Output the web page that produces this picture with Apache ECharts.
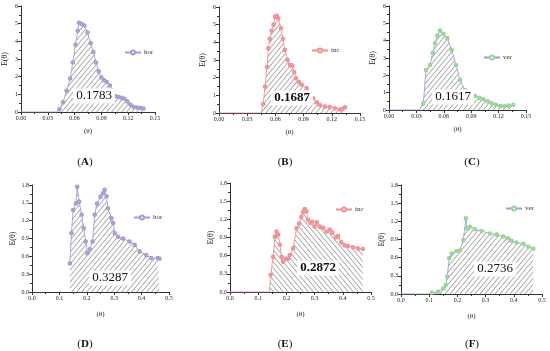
<!DOCTYPE html>
<html><head><meta charset="utf-8">
<script src="https://cdn.jsdelivr.net/npm/echarts@6/dist/echarts.min.js"></script>
<style>html,body{margin:0;padding:0;background:#fff}#c{width:550px;height:351px}</style>
</head><body><div id="c"></div>
<script>
// ---- data ----
const A_x=[0,0.02,0.04,0.043,0.047,0.051,0.055,0.058,0.061,0.0635,0.065,0.068,0.071,0.0745,0.078,0.081,0.084,0.087,0.09,0.093,0.096,0.0995,0.103,0.1055,0.109,0.1125,0.1155,0.119,0.1225,0.126,0.13,0.134,0.137];
const A_y=[0,0,0,0.15,0.55,1.2,1.9,2.8,3.8,4.6,5.05,4.98,4.9,4.5,3.9,3.4,2.8,2.3,1.95,1.8,1.7,1.5,1.2,0.9,0.85,0.8,0.75,0.6,0.42,0.3,0.25,0.22,0.2];
const B_x=[0,0.03,0.045,0.047,0.049,0.051,0.0525,0.054,0.056,0.058,0.0596,0.0615,0.063,0.066,0.068,0.070,0.073,0.0755,0.078,0.080,0.082,0.085,0.088,0.0933,0.097,0.1003,0.104,0.1074,0.1127,0.118,0.1234,0.1287,0.131,0.134];
const B_y=[0,0,0,0.5,1.5,2.6,3.66,4.2,4.65,5.0,5.45,5.5,5.36,4.8,4.2,3.57,3.0,2.72,2.68,2.3,1.96,1.75,1.6,1.4,1.1,0.83,0.6,0.45,0.36,0.33,0.27,0.2,0.22,0.32];
const C_x=[0,0.02,0.033,0.0376,0.0405,0.0449,0.048,0.0504,0.053,0.0559,0.0595,0.0639,0.0687,0.0734,0.0778,0.0832,0.088,0.094,0.099,0.1033,0.108,0.1125,0.117,0.1216,0.126,0.1307,0.136];
const C_y=[0,0,0,0.38,2.3,2.6,3.3,3.85,4.3,4.58,4.4,4.13,3.46,2.6,1.73,1.15,0.95,0.81,0.7,0.62,0.5,0.38,0.3,0.23,0.22,0.25,0.3];
const D_x=[0.138,0.144,0.15,0.16,0.165,0.172,0.181,0.189,0.196,0.2025,0.211,0.221,0.229,0.237,0.25,0.259,0.265,0.272,0.277,0.29,0.296,0.302,0.314,0.332,0.356,0.375,0.393,0.417,0.435,0.459,0.465];
const D_y=[0.48,0.99,1.38,1.49,1.77,1.52,1.3,1.07,0.85,0.65,0.72,0.85,1.3,1.49,1.6,1.66,1.72,1.61,1.41,1.24,1.16,0.99,0.93,0.9,0.85,0.79,0.68,0.62,0.57,0.57,0.56];
const E_x=[0,0.07,0.14,0.144,0.153,0.159,0.165,0.171,0.177,0.183,0.188,0.198,0.206,0.212,0.224,0.236,0.245,0.253,0.259,0.265,0.271,0.277,0.286,0.292,0.3,0.308,0.318,0.33,0.342,0.354,0.363,0.375,0.383,0.395,0.406,0.418,0.436,0.453,0.471];
const E_y=[0,0,0,0.28,0.58,0.91,1.0,0.95,0.78,0.58,0.5,0.55,0.55,0.61,0.72,1.05,1.13,1.24,1.32,1.37,1.33,1.19,1.14,1.16,1.08,1.15,1.08,1.06,1.0,1.03,0.98,0.9,0.93,0.82,0.77,0.76,0.74,0.72,0.71];
const F_x=[0,0.05,0.1,0.109,0.132,0.15,0.159,0.164,0.171,0.18,0.197,0.209,0.221,0.23,0.235,0.245,0.262,0.286,0.316,0.34,0.363,0.38,0.392,0.41,0.434,0.452,0.469];
const F_y=[0,0,0,0.02,0.04,0.09,0.15,0.29,0.59,0.67,0.71,0.72,0.89,1.25,1.08,1.11,1.07,1.04,1.0,0.98,0.95,0.92,0.88,0.85,0.83,0.78,0.75];
const areaLabels=['0.1783','0.1687','0.1617','0.3287','0.2872','0.2736'];
const panelLetters=['A','B','C','D','E','F'];
const seriesNames=['hor','inc','ver','hor','inc','ver'];
const topTicks=[0,0.03,0.06,0.09,0.12,0.15];
const botTicks=[0,0.1,0.2,0.3,0.4,0.5];

// ---- styling ----
const FONT='"Liberation Serif", "DejaVu Serif", serif';
function hatch(dir){
  const w=5,h=6,c=document.createElement('canvas');c.width=w;c.height=h;
  const g=c.getContext('2d');g.strokeStyle='#707070';g.lineWidth=0.7;g.beginPath();
  if(dir>0){for(let k=0;k<=2;k++){g.moveTo(k*w,0);g.lineTo((k-1)*w,h);}}
  else{for(let k=-1;k<=1;k++){g.moveTo(k*w,0);g.lineTo((k+1)*w,h);}}
  g.stroke();return c;
}
const grids=[
  {left:21,top:6,width:134,height:106},
  {left:219,top:7,width:141,height:106},
  {left:389,top:6,width:137,height:104},
  {left:32,top:185,width:137,height:107},
  {left:230,top:183,width:141,height:109},
  {left:401,top:185,width:141,height:109}
];
const lineColors=['#a09ed6','#f29094','#95a0e2','#a09ed6','#f29094','#95a0e2'];
const symColors=['#a09ed6','#f29094','#98d494','#a09ed6','#f29094','#98d494'];
const xs=[A_x,B_x,C_x,D_x,E_x,F_x], ys=[A_y,B_y,C_y,D_y,E_y,F_y];
const hatchDir=[1,1,1,1,-1,1];
const axisLine={lineStyle:{color:'#333',width:1}};
const xAxis=[],yAxis=[],series=[],legend=[],graphic=[];
const legendPos=[[124,49],[311,47],[483,54],[133,214],[335,206],[505,205]];
const labelPos=[[94,96],[292,98],[453,97],[110,278],[318,268],[495,269]];
const letterPos=[[85,162],[285,162],[472,162],[85,344],[285,344],[472,344]];
for(let i=0;i<6;i++){
  const top=i<3;
  const ticks=top?topTicks:botTicks;
  xAxis.push({type:'value',gridIndex:i,min:ticks[0],max:ticks[ticks.length-1],interval:ticks[1]-ticks[0],
    axisLine:axisLine,axisTick:{length:3,lineStyle:{color:'#333'}},minorTick:{show:true,splitNumber:2,length:2,lineStyle:{color:'#333'}},
    splitLine:{show:false},
    axisLabel:{fontSize:6,color:'#222',fontFamily:FONT,margin:3,formatter:v=>v.toFixed(top?2:1)},
    name:'(θ)',nameLocation:'middle',nameGap:top?16:19,nameTextStyle:{fontSize:7,color:'#222',fontFamily:FONT}});
  yAxis.push({type:'value',gridIndex:i,min:0,max:top?6:1.8,interval:top?1:0.3,
    axisLine:Object.assign({show:true},axisLine),axisTick:{show:true,length:3,lineStyle:{color:'#333'}},
    minorTick:{show:true,splitNumber:2,length:2,lineStyle:{color:'#333'}},splitLine:{show:false},
    axisLabel:{fontSize:6,color:'#222',fontFamily:FONT,margin:3,formatter:v=>top?String(Math.round(v)):v.toFixed(1)},
    name:'E(θ)',nameLocation:'middle',nameRotate:90,nameGap:top?12:15,nameTextStyle:{fontSize:8,color:'#222',fontFamily:FONT}});
  const nb=xs[i].filter((x,j)=>ys[i][j]===0&&j<3).length;
  series.push({type:'line',name:seriesNames[i],xAxisIndex:i,yAxisIndex:i,
    data:xs[i].map((x,j)=>[x,ys[i][j]]),
    symbol:'emptyCircle',symbolSize:(v,p)=>p.dataIndex<nb?0:2.6,showAllSymbol:true,
    lineStyle:{color:lineColors[i],width:0.9},itemStyle:{color:symColors[i],borderColor:symColors[i],borderWidth:0.6},
    areaStyle:{color:{image:hatch(hatchDir[i]),repeat:'repeat'},opacity:1},
    animation:false,z:2});
  legend.push({left:legendPos[i][0],top:legendPos[i][1],data:[seriesNames[i]],itemWidth:16,itemHeight:5,itemGap:2,
    padding:0,textStyle:{fontSize:7,color:'#333',fontFamily:FONT,padding:[0,0,0,-2]},selectedMode:false});
  graphic.push({type:'text',x:labelPos[i][0],y:labelPos[i][1],z:10,
    style:{text:areaLabels[i],font:((i===1||i===4)?'bold ':'')+'13px '+FONT,fill:'#111',
      align:'center',verticalAlign:'middle',backgroundColor:'#fff',padding:[1,3]}});
  graphic.push({type:'text',x:letterPos[i][0],y:letterPos[i][1],
    style:{text:'{p|(}{b|'+panelLetters[i]+'}{p|)}',align:'center',verticalAlign:'middle',
      rich:{p:{font:'11px '+FONT,fill:'#111'},b:{font:'bold 11px '+FONT,fill:'#111'}}}});
}
const chart=echarts.init(document.getElementById('c'),null,{renderer:'canvas'});
chart.setOption({animation:false,grid:grids,xAxis:xAxis,yAxis:yAxis,series:series,legend:legend,graphic:graphic});
</script></body></html>
